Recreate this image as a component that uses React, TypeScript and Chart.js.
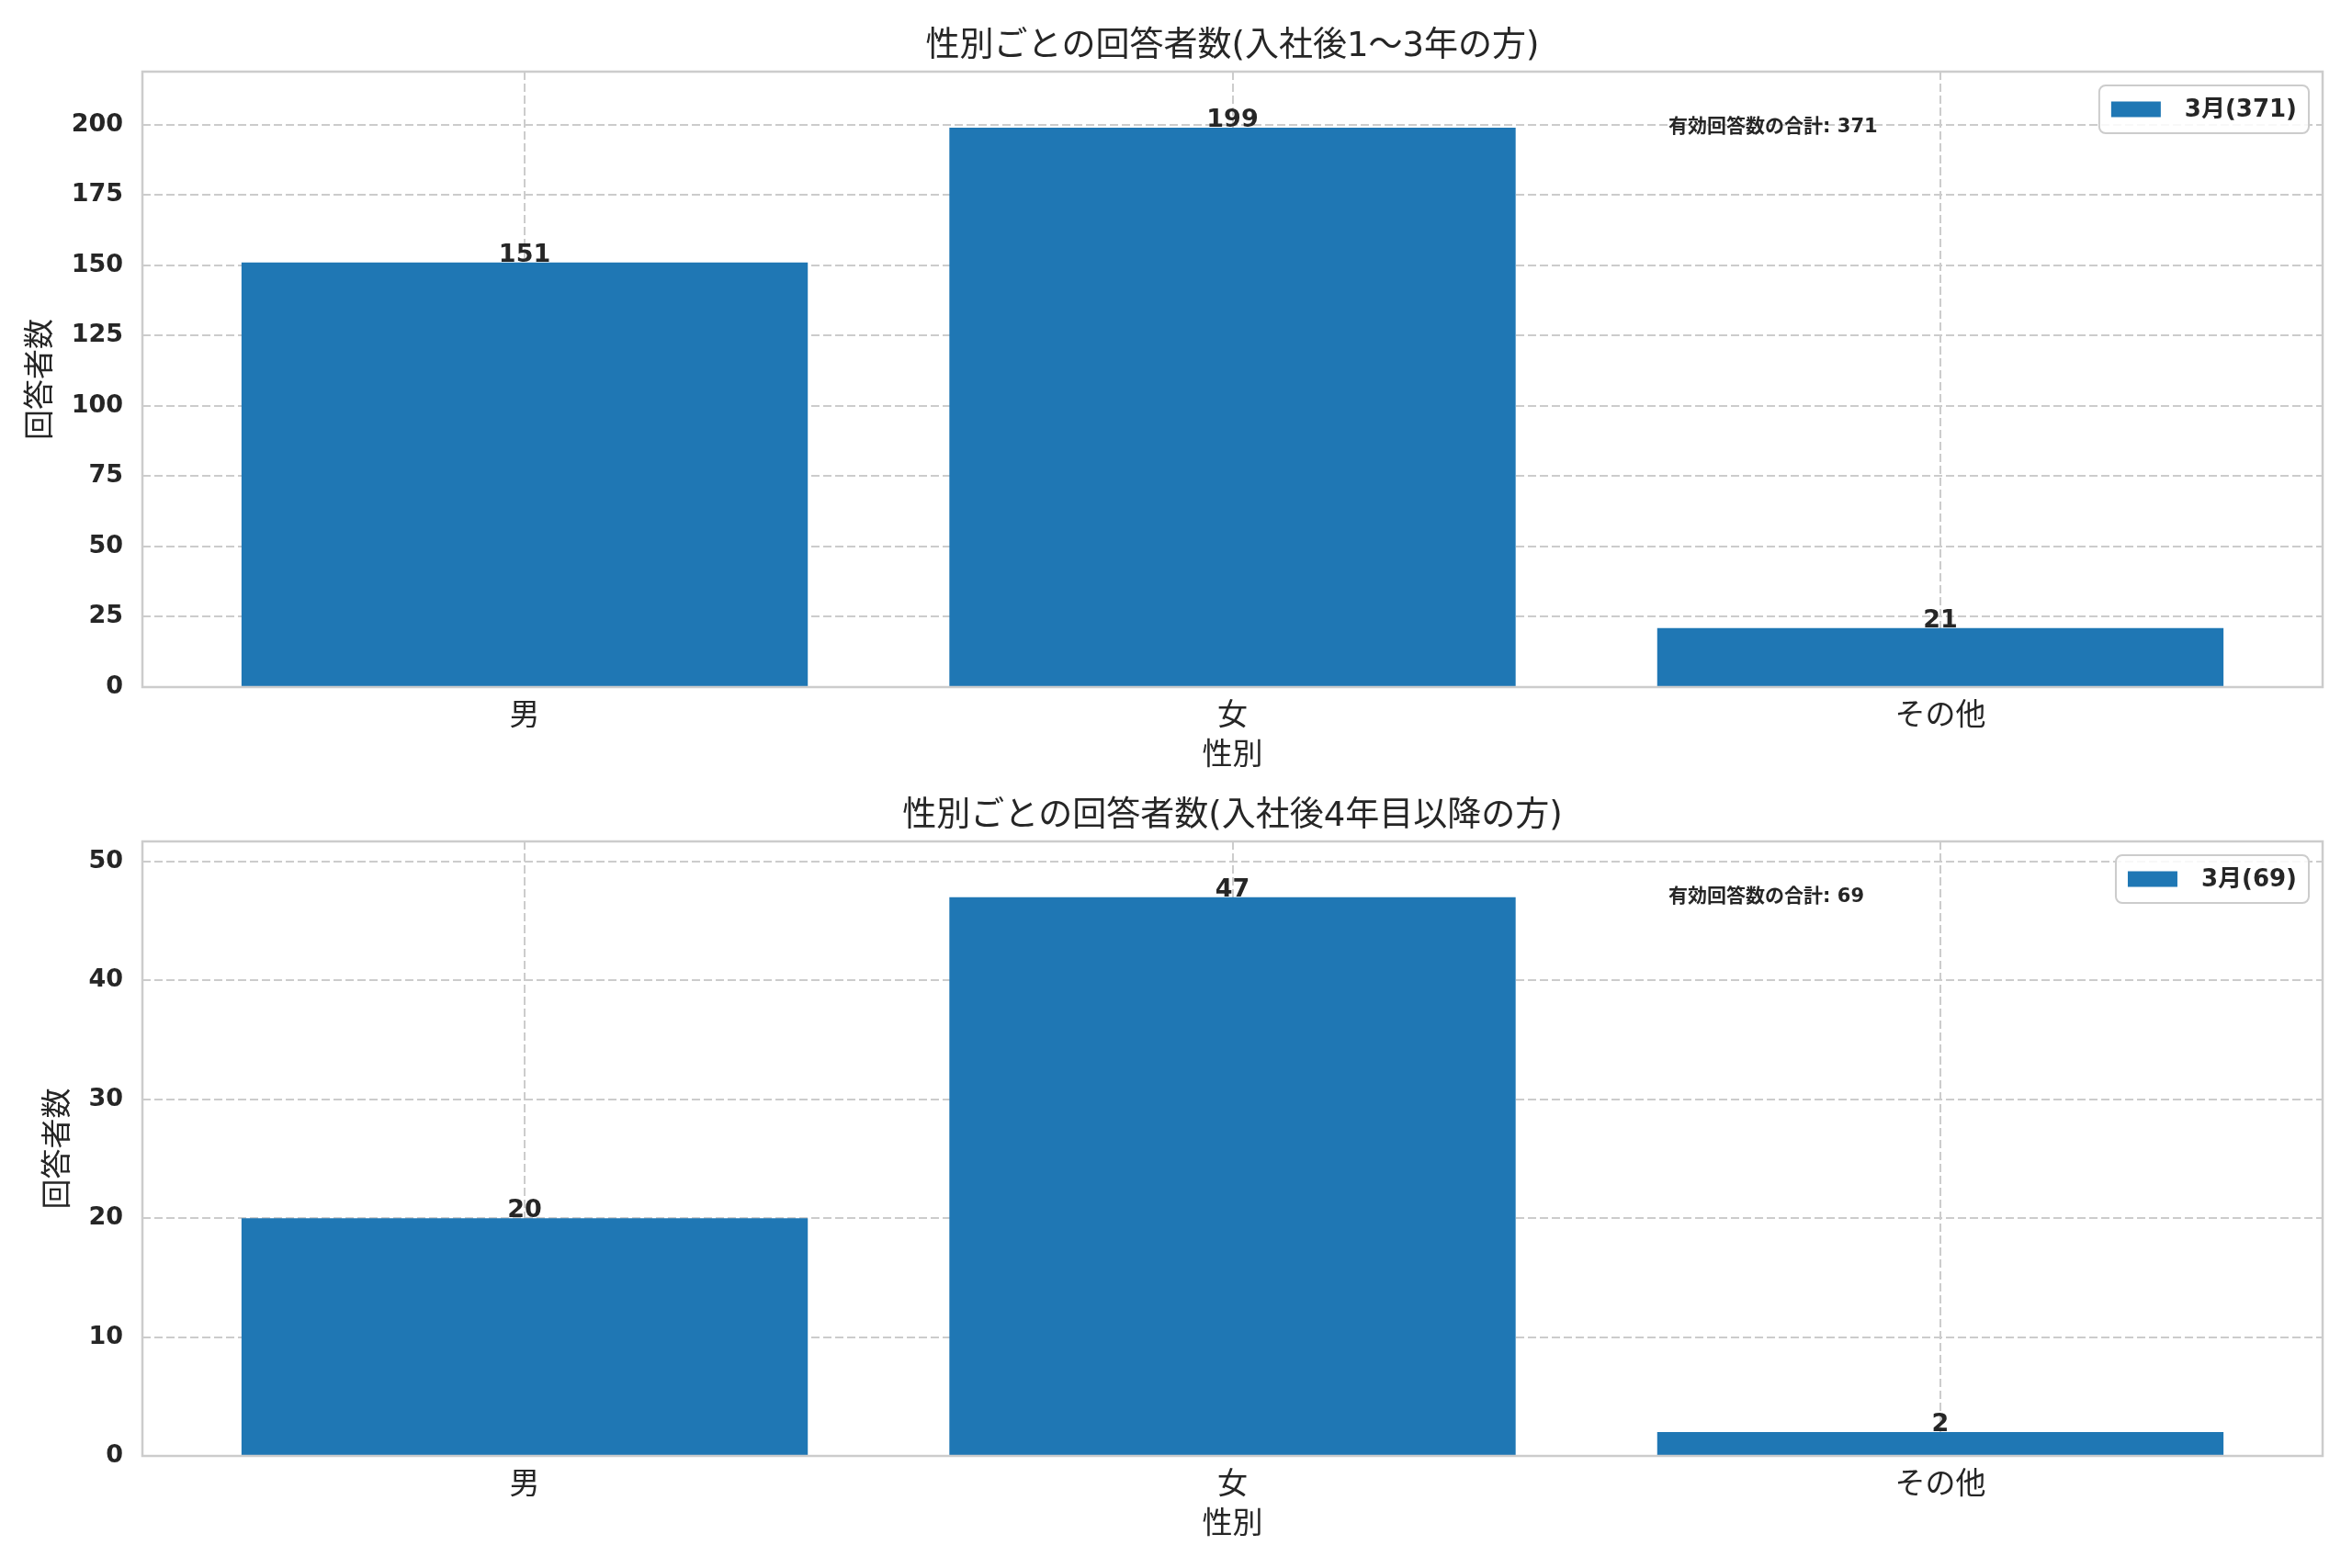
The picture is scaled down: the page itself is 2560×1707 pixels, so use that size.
import { useEffect, useRef } from "react"
import { Chart, registerables } from "chart.js"

Chart.register(...registerables)

// chart data
const categories = ["男", "女", "その他"]
const earlyCounts = [151, 199, 21]
const laterCounts = [20, 47, 2]
const earlyYTicks = [0, 25, 50, 75, 100, 125, 150, 175, 200]
const laterYTicks = [0, 10, 20, 30, 40, 50]
const earlyTitle = "性別ごとの回答者数(入社後1～3年の方)"
const laterTitle = "性別ごとの回答者数(入社後4年目以降の方)"
const legendMonth = "3月"
const totalLabel = "有効回答数の合計"
const xTitle = "性別"
const yTitle = "回答者数"

const FONT = '"DejaVu Sans", "Noto Sans CJK JP", sans-serif'
const TEXT = "#262626"
const BAR = "#1f77b4"
const EDGE = "#cccccc"

interface PanelProps {
  title: string
  counts: number[]
  yTicks: number[]
  yTitlePad: number
  top: number
  height: number
  bottomPad: number
}

function Panel({ title, counts, yTicks, yTitlePad, top, height, bottomPad }: PanelProps) {
  const canvasRef = useRef<HTMLCanvasElement>(null)
  const chartInstance = useRef<Chart | null>(null)

  useEffect(() => {
    if (!canvasRef.current) return
    const total = counts.reduce((a, b) => a + b, 0)
    const maxCount = Math.max(...counts)

    // title, value labels, annotation, legend and frame drawn on top
    const decor = {
      id: "decor",
      afterDatasetsDraw(chart: Chart) {
        const { ctx, chartArea: a } = chart
        const yScale = chart.scales.y
        ctx.save()

        // frame
        ctx.strokeStyle = EDGE
        ctx.lineWidth = 2.5
        ctx.strokeRect(a.left, a.top, a.right - a.left, a.bottom - a.top)

        // value labels
        ctx.fillStyle = TEXT
        ctx.font = `bold 27px ${FONT}`
        ctx.textAlign = "center"
        ctx.textBaseline = "alphabetic"
        chart.getDatasetMeta(0).data.forEach((bar, i) => {
          ctx.fillText(String(counts[i]), bar.x, bar.y - 1)
        })

        // title
        ctx.font = `37px ${FONT}`
        ctx.fillText(title, (a.left + a.right) / 2, 61)

        // total annotation
        ctx.font = `bold 21px ${FONT}`
        ctx.textAlign = "left"
        ctx.textBaseline = "middle"
        ctx.fillText(
          `${totalLabel}: ${total}`,
          a.left + 0.7 * (a.right - a.left),
          yScale.getPixelForValue(maxCount)
        )

        // legend
        const label = `${legendMonth}(${total})`
        ctx.font = `bold 26px ${FONT}`
        const tw = ctx.measureText(label).width
        const boxW = 13 + 54 + 26 + tw + 13
        const boxH = 52
        const bx = a.right - 15 - boxW
        const by = a.top + 15
        ctx.beginPath()
        ctx.roundRect(bx, by, boxW, boxH, 7)
        ctx.fillStyle = "rgba(255,255,255,0.85)"
        ctx.fill()
        ctx.strokeStyle = EDGE
        ctx.lineWidth = 2
        ctx.stroke()
        ctx.fillStyle = BAR
        ctx.fillRect(bx + 13, by + boxH / 2 - 8.5, 54, 17)
        ctx.fillStyle = TEXT
        ctx.fillText(label, bx + 13 + 54 + 26, by + boxH / 2 + 1)

        ctx.restore()
      },
    }

    if (chartInstance.current) chartInstance.current.destroy()
    const ctx = canvasRef.current.getContext("2d")
    if (!ctx) return

    chartInstance.current = new Chart(ctx, {
      type: "bar",
      data: {
        datasets: [
          {
            label: `${legendMonth}(${total})`,
            data: counts.map((v, i) => ({ x: i, y: v })),
            backgroundColor: BAR,
            borderWidth: 0,
            barPercentage: 0.8,
            categoryPercentage: 1,
          },
        ],
      },
      options: {
        animation: false,
        responsive: false,
        devicePixelRatio: 1,
        layout: { padding: { top: 78, right: 32, left: 0, bottom: bottomPad } },
        plugins: {
          legend: { display: false },
          tooltip: { enabled: false },
        },
        scales: {
          x: {
            type: "linear",
            min: -0.54,
            max: 2.54,
            offset: false,
            afterBuildTicks: (axis) => {
              axis.ticks = categories.map((_, i) => ({ value: i }))
            },
            afterFit: (axis) => {
              axis.height = 95
            },
            grid: { color: EDGE, lineWidth: 2, drawTicks: false, offset: false },
            border: { display: false, dash: [9, 4] },
            ticks: {
              padding: 13,
              autoSkip: false,
              maxRotation: 0,
              color: TEXT,
              font: { family: FONT, size: 33 },
              callback: (value) => categories[Number(value)] ?? "",
            },
            title: {
              display: true,
              text: xTitle,
              color: TEXT,
              font: { family: FONT, size: 33 },
              padding: { top: 0, bottom: 0 },
            },
          },
          y: {
            min: 0,
            max: maxCount * 1.1,
            afterBuildTicks: (axis) => {
              axis.ticks = yTicks.map((v) => ({ value: v }))
            },
            afterFit: (axis) => {
              axis.width = 155
            },
            grid: { color: EDGE, lineWidth: 2, drawTicks: false },
            border: { display: false, dash: [9, 4] },
            ticks: {
              padding: 21,
              color: TEXT,
              font: { family: FONT, size: 27, weight: "bold" },
              callback: (value) => String(value),
            },
            title: {
              display: true,
              text: yTitle,
              color: TEXT,
              font: { family: FONT, size: 33 },
              padding: { top: yTitlePad, bottom: 0 },
            },
          },
        },
      },
      plugins: [decor],
    })

    return () => {
      if (chartInstance.current) {
        chartInstance.current.destroy()
        chartInstance.current = null
      }
    }
  }, [title, counts, yTicks, yTitlePad, bottomPad])

  return (
    <canvas
      ref={canvasRef}
      width={2560}
      height={height}
      style={{ display: "block", position: "absolute", left: 0, top }}
    ></canvas>
  )
}

export default function App() {
  return (
    <div style={{ position: "fixed", left: 0, top: 0, width: 2560, height: 1707, background: "#ffffff" }}>
      <Panel title={earlyTitle} counts={earlyCounts} yTicks={earlyYTicks} yTitlePad={26} top={0} height={860} bottomPad={17} />
      <Panel title={laterTitle} counts={laterCounts} yTicks={laterYTicks} yTitlePad={45} top={838} height={869} bottomPad={27} />
    </div>
  )
}
